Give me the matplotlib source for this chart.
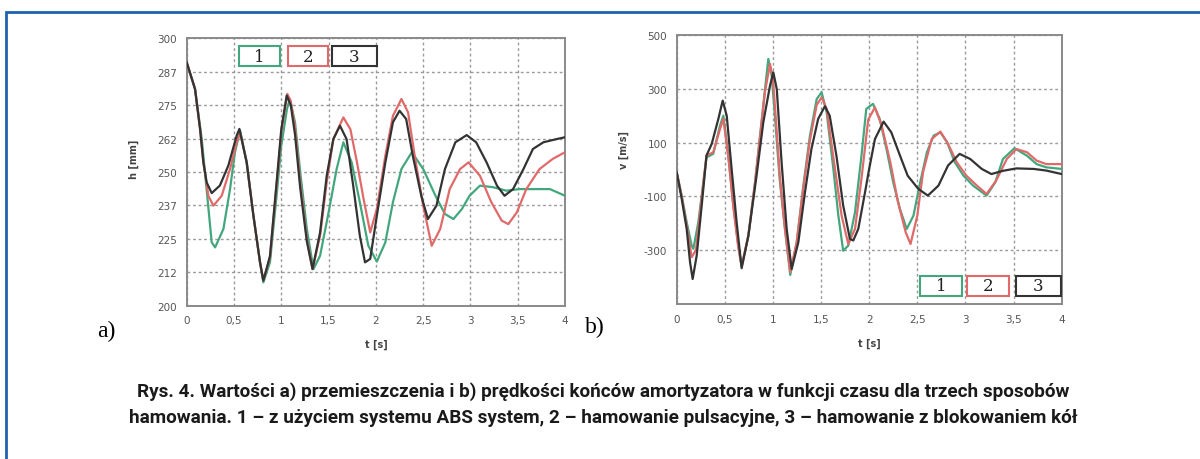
import numpy as np
import matplotlib
matplotlib.use("Agg")
import matplotlib.pyplot as plt
from matplotlib.patches import Rectangle

# --- a) displacement h [mm] ---
t_h1 = [0, 0.088, 0.159, 0.21, 0.264, 0.30, 0.388, 0.458, 0.51, 0.564, 0.634, 0.705, 0.775, 0.81,
        0.88, 0.95, 1.0, 1.06, 1.09, 1.145, 1.2, 1.27, 1.34, 1.41, 1.5, 1.585, 1.656, 1.744, 1.83,
        1.92, 2.01, 2.1, 2.18, 2.27, 2.38, 2.5, 2.63, 2.73, 2.82, 2.91, 2.99, 3.1, 3.24, 3.38,
        3.52, 3.7, 3.84, 4.0]
h1 = [291, 281, 262.3, 243.6, 223.7, 221.8, 228.7, 243.6, 257.4, 265.5, 253.6, 233.7, 216.2, 208.7,
      216.2, 241.1, 259.9, 273.6, 277.3, 268.6, 249.9, 228.7, 213.7, 218.7, 234.9, 251.1, 261.1, 253.6,
      238.7, 222.4, 216.5, 223.7, 238.7, 251.1, 257.4, 251.1, 241.1, 234.3, 232.4, 236.2, 241.1, 244.9,
      244.3, 243, 243.6, 243.6, 243.6, 241.1]

t_h2 = [0, 0.088, 0.141, 0.176, 0.229, 0.282, 0.37, 0.458, 0.528, 0.564, 0.634, 0.705, 0.775, 0.81,
        0.88, 0.95, 1.0, 1.064, 1.1, 1.145, 1.2, 1.27, 1.33, 1.41, 1.48, 1.55, 1.656, 1.73, 1.8,
        1.87, 1.94, 2.01, 2.1, 2.18, 2.27, 2.34, 2.41, 2.5, 2.59, 2.68, 2.78, 2.89, 2.98, 3.1,
        3.22, 3.33, 3.4, 3.49, 3.59, 3.73, 3.87, 4.0]
h2 = [291, 281, 266.1, 253.6, 241.1, 237.4, 241.1, 251.1, 261.1, 264.8, 253.6, 233.7, 216.2, 209.4,
      218, 245, 265, 279.2, 276.5, 266.5, 246, 225, 213.7, 226.2, 246.1, 262.3, 270.4, 266, 253.6,
      239.9, 227.4, 236.2, 256.1, 271, 277.3, 272.3, 256.1, 237.4, 222.4, 228.7, 243.6, 251.1, 253.6,
      248.6, 238.7, 231.8, 230.5, 234.9, 243.6, 251.1, 254.9, 257.4]

t_h3 = [0, 0.088, 0.141, 0.176, 0.211, 0.264, 0.35, 0.44, 0.528, 0.557, 0.634, 0.705, 0.775, 0.81,
        0.88, 0.95, 1.0, 1.057, 1.1, 1.145, 1.2, 1.27, 1.33, 1.41, 1.48, 1.55, 1.62, 1.69, 1.76,
        1.83, 1.885, 1.94, 2.01, 2.1, 2.18, 2.25, 2.32, 2.39, 2.48, 2.55, 2.64, 2.73, 2.84, 2.96,
        3.06, 3.17, 3.28, 3.36, 3.45, 3.56, 3.66, 3.77, 3.91, 4.0]
h3 = [291, 281, 266.1, 253.6, 246.1, 242.1, 244.9, 252.4, 263.6, 266.1, 253.6, 233.7, 216.2, 209.4,
      218.5, 246, 266, 278.6, 275, 264, 244, 224, 213.7, 227.4, 248.6, 262.3, 267.3, 262.3, 244.9,
      226.2, 216.2, 217.5, 233.7, 253.6, 268.6, 272.9, 269.8, 256.1, 241.1, 232.4, 237.4, 251.1, 261.1,
      263.8, 261.1, 253.6, 244.9, 241.1, 243.6, 251.1, 258.6, 261.1, 262.3, 263]

# --- b) velocity v [m/s] ---
t_v1 = [0, 0.052, 0.104, 0.156, 0.173, 0.225, 0.277, 0.31, 0.38, 0.45, 0.485, 0.537, 0.589, 0.64,
        0.675, 0.745, 0.814, 0.866, 0.918, 0.952, 0.987, 1.02, 1.07, 1.125, 1.18, 1.247, 1.316,
        1.385, 1.455, 1.506, 1.558, 1.628, 1.68, 1.73, 1.783, 1.853, 1.92, 1.97, 2.04, 2.11, 2.18,
        2.25, 2.32, 2.39, 2.46, 2.53, 2.6, 2.67, 2.74, 2.81, 2.89, 2.98, 3.08, 3.22, 3.31, 3.39,
        3.51, 3.64, 3.74, 3.84, 4.0]
v1 = [-10, -97, -196, -283, -295, -196, -48, 45, 58, 163, 200, 51, -134, -283, -360, -246, -48, 126,
      299, 411, 349, 200, -35, -221, -392, -271, -60, 126, 262, 287, 213, 2, -172, -302, -283, -159,
      51, 225, 244, 188, 76, -48, -147, -221, -172, -48, 64, 126, 138, 101, 27, -23, -60, -97, -48,
      39, 79, 51, 20, 8, 2]

t_v2 = [0, 0.052, 0.104, 0.156, 0.2, 0.24, 0.28, 0.31, 0.38, 0.45, 0.485, 0.537, 0.589, 0.64, 0.675,
        0.745, 0.814, 0.866, 0.918, 0.97, 1.0, 1.03, 1.075, 1.125, 1.18, 1.247, 1.316, 1.385, 1.455,
        1.506, 1.558, 1.645, 1.714, 1.783, 1.853, 1.92, 1.99, 2.06, 2.13, 2.22, 2.3, 2.38, 2.43,
        2.5, 2.56, 2.65, 2.74, 2.82, 2.91, 3.01, 3.12, 3.22, 3.32, 3.43, 3.53, 3.64, 3.74, 3.84, 4.0]
v2 = [-10, -100, -210, -326, -300, -170, -41, 52, 64, 150, 188, 45, -140, -290, -360, -246, -50, 120,
      290, 392, 340, 190, -40, -220, -382, -270, -70, 110, 240, 268, 226, 2, -172, -277, -221, -35,
      185, 231, 163, 27, -122, -234, -277, -172, -10, 113, 141, 95, 27, -23, -60, -91, -41, 39, 76,
      64, 33, 20, 20]

t_v3 = [0, 0.052, 0.104, 0.139, 0.166, 0.208, 0.26, 0.31, 0.364, 0.433, 0.478, 0.52, 0.571, 0.623,
        0.675, 0.745, 0.83, 0.9, 0.97, 1.004, 1.04, 1.09, 1.143, 1.195, 1.264, 1.333, 1.4, 1.47,
        1.54, 1.59, 1.66, 1.73, 1.8, 1.835, 1.887, 1.957, 2.0, 2.06, 2.15, 2.23, 2.32, 2.4, 2.51,
        2.61, 2.72, 2.82, 2.94, 3.05, 3.17, 3.27, 3.39, 3.53, 3.71, 3.84, 4.0]
v3 = [-10, -109, -221, -345, -407, -320, -134, 52, 95, 188, 256, 200, 2, -196, -367, -246, -23, 175,
      312, 361, 299, 27, -221, -370, -271, -85, 76, 188, 235, 200, 51, -134, -258, -264, -221, -85,
      2, 113, 178, 138, 52, -23, -72, -97, -60, 15, 58, 39, 2, -17, -5, 4, 2, -4, -17]

x_ticks = [0, 0.5, 1, 1.5, 2, 2.5, 3, 3.5, 4]
x_labels = ["0", "0,5", "1", "1,5", "2", "2,5", "3", "3,5", "4"]
h_ticks = [200, 212.5, 225, 237.5, 250, 262.5, 275, 287.5, 300]
h_labels = ["200", "212", "225", "237", "250", "262", "275", "287", "300"]
v_ticks = [-300, -100, 100, 300, 500]
v_labels = ["-300", "-100", "100", "300", "500"]
series_names = ["1", "2", "3"]

caption = ("Rys. 4. Wartości a) przemieszczenia i b) prędkości końców amortyzatora w funkcji czasu dla trzech sposobów\n"
           "hamowania. 1 – z użyciem systemu ABS system, 2 – hamowanie pulsacyjne, 3 – hamowanie z blokowaniem kół")

colors = ["#43a77d", "#e06a6a", "#333333"]
grid_col = "#9a9a9a"
tick_col = "#555555"

fig = plt.figure(figsize=(12, 4.6), dpi=100)
axA = fig.add_axes([0.1556, 0.3333, 0.3153, 0.5813])
axB = fig.add_axes([0.5639, 0.3370, 0.3208, 0.5848])


def style_axis(ax, yt, yl, ylim, ylabel, ylab_y):
    ax.set_xlim(0, 4)
    ax.set_ylim(*ylim)
    ax.set_xticks(x_ticks)
    ax.set_xticklabels(x_labels)
    ax.set_yticks(yt)
    ax.set_yticklabels(yl)
    ax.tick_params(length=0, labelsize=7.5, colors=tick_col, pad=7)
    ax.grid(True, linestyle=(0, (2, 2)), color=grid_col, linewidth=1.0)
    for s in ax.spines.values():
        s.set_color("#8a8a8a")
        s.set_linewidth(1.4)
    ax.set_xlabel("t [s]", fontsize=7, color="#444444", fontweight="bold")
    ax.set_ylabel(ylabel, fontsize=7, color="#444444", fontweight="bold")
    ax.xaxis.set_label_coords(0.5, -0.125)
    ax.yaxis.set_label_coords(-0.125, ylab_y)


def legend_boxes(ax, boxes):
    # three little framed numbers, like the original software legend
    for (x0, x1, y0, y1), c, name in zip(boxes, colors, series_names):
        ax.add_patch(Rectangle((x0, y0), x1 - x0, y1 - y0, transform=ax.transAxes,
                               facecolor="white", edgecolor=c, linewidth=1.5, zorder=5))
        ax.text((x0 + x1) / 2, (y0 + y1) / 2, name, transform=ax.transAxes, ha="center",
                va="center", fontsize=12, family="DejaVu Serif", color="#222222", zorder=6)


style_axis(axA, h_ticks, h_labels, (200, 300), "h [mm]", 0.55)
style_axis(axB, v_ticks, v_labels, (-500, 500), "v [m/s]", 0.576)

for t, y, c in zip([t_h1, t_h2, t_h3], [h1, h2, h3], colors):
    axA.plot(t, y, color=c, linewidth=1.6, zorder=3, solid_joinstyle="round")
for t, y, c in zip([t_v1, t_v2, t_v3], [v1, v2, v3], colors):
    axB.plot(t, y, color=c, linewidth=1.6, zorder=3, solid_joinstyle="round")

legend_boxes(axA, [(0.138, 0.247, 0.896, 0.971), (0.267, 0.373, 0.896, 0.971),
                   (0.384, 0.503, 0.896, 0.971)])
legend_boxes(axB, [(0.632, 0.741, 0.030, 0.104), (0.754, 0.863, 0.030, 0.104),
                   (0.881, 0.998, 0.030, 0.104)])

fig.text(0.089, 0.28, "a)", fontsize=17, family=["Liberation Serif", "DejaVu Serif"],
         ha="center", va="center")
fig.text(0.496, 0.289, "b)", fontsize=17, family=["Liberation Serif", "DejaVu Serif"],
         ha="center", va="center")

fig.text(0.503, 0.12, caption, ha="center", va="center", fontsize=13.6, fontweight="bold",
         family=["Roboto", "DejaVu Sans"], color="#1a1a1a", linespacing=1.6)

# blue frame round the figure (right and bottom edge run off the picture)
fig.patches.append(Rectangle((0.005, -0.1), 1.2, 0.9728 + 0.1, transform=fig.transFigure,
                             fill=False, edgecolor="#1e62b0", linewidth=2.0))

fig.savefig("out.png", dpi=100)
